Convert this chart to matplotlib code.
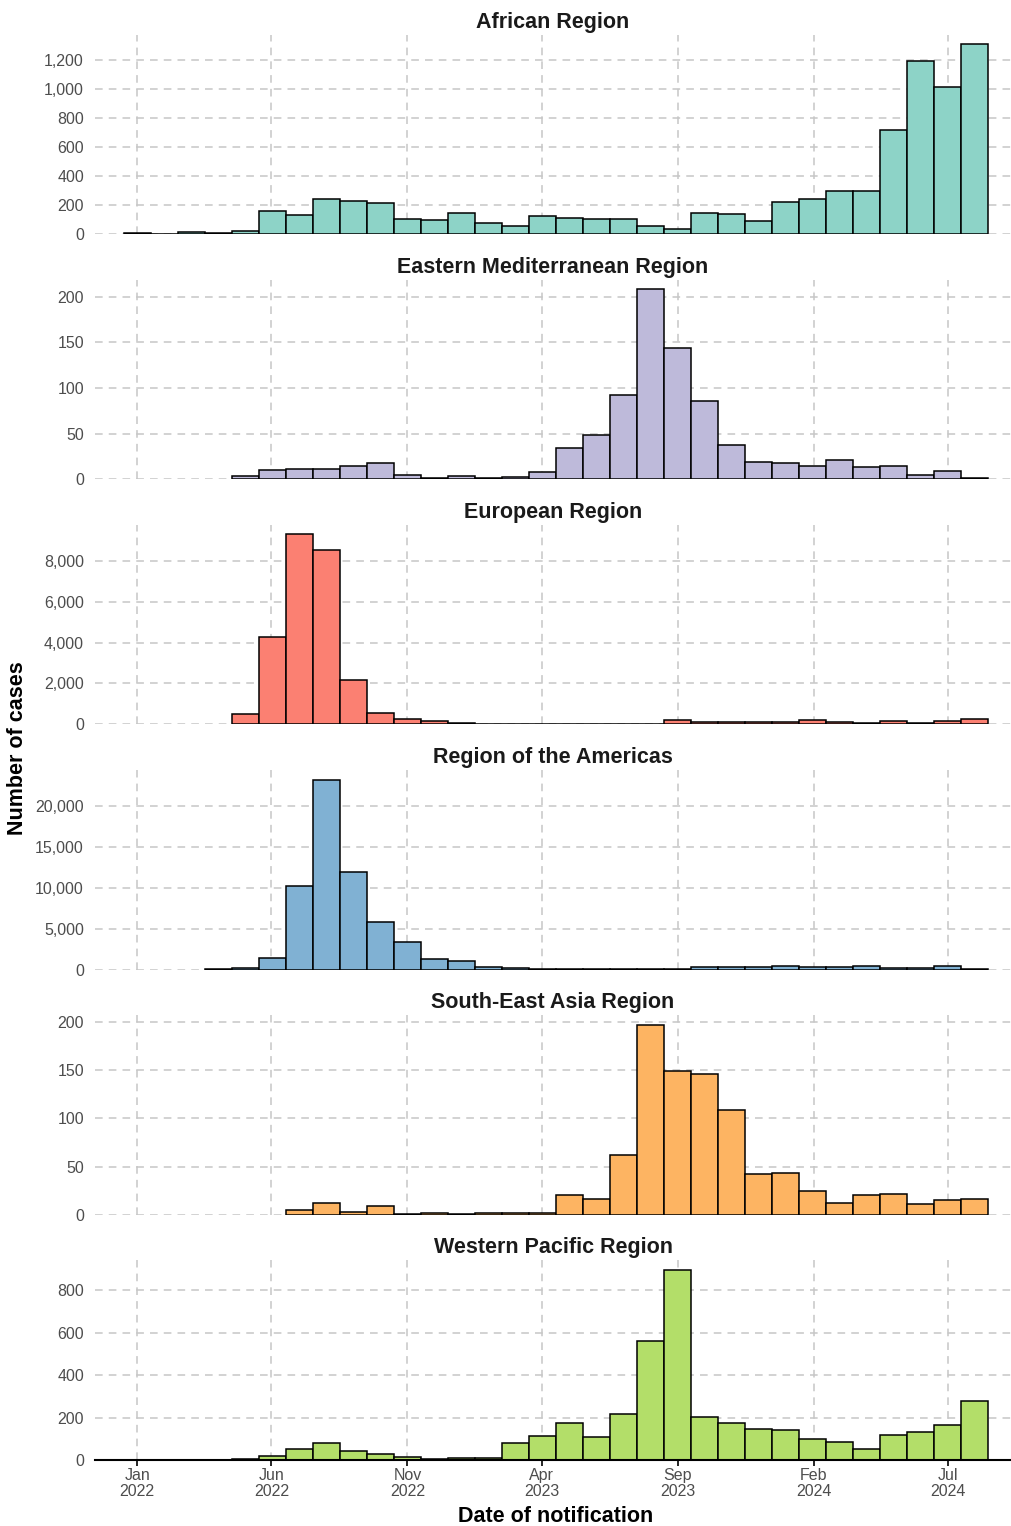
import datetime as dt
import numpy as np
import matplotlib
matplotlib.use("Agg")
import matplotlib.pyplot as plt
import matplotlib.dates as mdates
from matplotlib.ticker import MultipleLocator, FuncFormatter

plt.rcParams['font.family'] = ['Liberation Sans', 'DejaVu Sans']

# monthly bins, Jan 2022 .. Aug 2024 (32 bins), 0 = no bar
regions = ['African Region', 'Eastern Mediterranean Region', 'European Region',
           'Region of the Americas', 'South-East Asia Region', 'Western Pacific Region']
colors = ['#8DD3C7', '#BEBADA', '#FB8072', '#80B1D3', '#FDB462', '#B3DE69']
steps = [200, 50, 2000, 5000, 50, 200]

african = [5, 3, 15, 5, 18, 160, 133, 239, 230, 216, 106, 99, 145, 74, 55, 122,
           110, 103, 106, 55, 37, 145, 140, 87, 223, 244, 299, 299, 720, 1193, 1016, 1308]
eastern_med = [0, 0, 0, 0, 4, 10, 11, 11, 14, 18, 5, 1, 4, 1, 2, 8,
               34, 49, 92, 208, 144, 86, 37, 19, 18, 15, 21, 13, 14, 5, 9, 1]
european = [0, 0, 0, 0, 520, 4255, 9283, 8544, 2185, 559, 263, 148, 82, 16, 5, 33,
            20, 5, 33, 30, 213, 131, 131, 131, 131, 213, 99, 82, 164, 82, 164, 279]
americas = [0, 0, 0, 40, 165, 1399, 10246, 23250, 11892, 5761, 3374, 1276, 1070, 370, 206, 60,
            60, 60, 60, 60, 82, 370, 330, 330, 500, 330, 330, 400, 200, 200, 410, 120]
se_asia = [0, 0, 0, 0, 0, 0, 5, 12, 3, 9, 1, 2, 1, 2, 2, 2,
           21, 16, 62, 197, 149, 146, 109, 42, 43, 25, 12, 21, 22, 11, 15, 16]
w_pacific = [0, 0, 0, 0, 3, 17, 51, 79, 43, 27, 13, 5, 10, 10, 78, 111,
             175, 107, 218, 561, 898, 205, 175, 148, 142, 97, 86, 54, 119, 132, 164, 277]
series = [african, eastern_med, european, americas, se_asia, w_pacific]

start = mdates.date2num(dt.date(2022, 1, 1))
binw = 912 / 30.0
centers = start + np.arange(32) * binw

tick_dates = []
for m in range(0, 31, 5):
    y, mo = 2022 + m // 12, m % 12 + 1
    tick_dates.append(dt.date(y, mo, 1))

W, H = 1011, 1526
fig = plt.figure(figsize=(W / 100, H / 100), dpi=100)

left_px, right_px = 95, 1011
px_per_day = 810.5 / 912
xmin = start - (137.3 - left_px) / px_per_day
xmax = start + (right_px - 137.3) / px_per_day

grid_kw = dict(color='#c6c6c6', linestyle=(0, (5, 4)), linewidth=1.1)

for i, (name, vals, col, st) in enumerate(zip(regions, series, colors, steps)):
    top = 35 + i * 245.0
    bot = 234 + i * 245.2
    ax = fig.add_axes([left_px / W, 1 - bot / H, (right_px - left_px) / W, (bot - top) / H])
    vals = np.array(vals, dtype=float)
    m = vals > 0
    ax.bar(centers[m], vals[m], width=binw, color=col, edgecolor='black', linewidth=1.1)
    ax.set_xlim(xmin, xmax)
    ax.set_ylim(0, vals.max() * 1.05)
    ax.yaxis.set_major_locator(MultipleLocator(st))
    ax.yaxis.set_major_formatter(FuncFormatter(lambda v, p: f'{v:,.0f}'))
    ax.set_xticks([mdates.date2num(d) for d in tick_dates])
    ax.set_axisbelow(True)
    ax.grid(True, **grid_kw)
    for s in ax.spines.values():
        s.set_visible(False)
    ax.tick_params(axis='y', length=0, pad=8, labelsize=11.5, labelcolor='#4d4d4d')
    ax.set_title(name, fontsize=15.5, fontweight='bold', color='#1a1a1a', pad=5)
    if i == len(regions) - 1:
        ax.spines['bottom'].set_visible(True)
        ax.spines['bottom'].set_linewidth(1.5)
        ax.set_xticklabels([d.strftime('%b\n%Y') for d in tick_dates], linespacing=1.05)
        ax.tick_params(axis='x', length=4, width=1.2, color='black', pad=2,
                       labelsize=11.5, labelcolor='#4d4d4d')
    else:
        ax.tick_params(axis='x', length=0, labelbottom=False)

fig.text(556 / W, 1 - 1516 / H, 'Date of notification', ha='center', va='center',
         fontsize=15.5, fontweight='bold')
fig.text(18 / W, 1 - 748 / H, 'Number of cases', ha='center', va='center',
         rotation=90, fontsize=15.5, fontweight='bold')

fig.savefig('out.png', dpi=100)
